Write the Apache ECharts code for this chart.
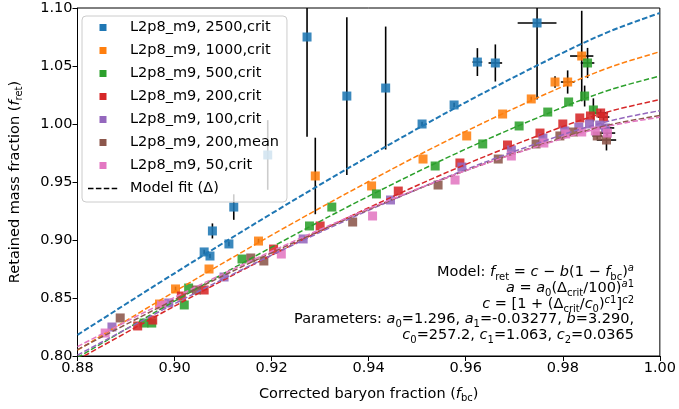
<!DOCTYPE html>
<html><head><meta charset="utf-8">
<script src="https://cdn.jsdelivr.net/npm/echarts@6/dist/echarts.min.js"></script>
<style>html,body{margin:0;padding:0;background:#fff}#c{width:679px;height:409px}</style>
</head><body><div id="c"></div>
<script>
// ---- tick labels ----
const xTicks = [0.88, 0.90, 0.92, 0.94, 0.96, 0.98, 1.00];
const yTicks = [0.80, 0.85, 0.90, 0.95, 1.00, 1.05, 1.10];

// ---- series names ----
const names = ['L2p8_m9, 2500,crit','L2p8_m9, 1000,crit','L2p8_m9, 500,crit','L2p8_m9, 200,crit','L2p8_m9, 100,crit','L2p8_m9, 200,mean','L2p8_m9, 50,crit'];
const colors = ['#1f77b4','#ff7f0e','#2ca02c','#d62728','#9467bd','#8c564b','#e377c2'];
const fitName = 'Model fit (Δ)';

// ---- data: corrected baryon fraction (x), retained mass fraction (y), errors ----
const x2500 = [0.9061,0.9073,0.9078,0.9112,0.9122,0.9192,0.9273,0.9355,0.9435,0.9510,0.9576,0.9624,0.9661,0.9747];
const y2500 = [0.8897,0.8862,0.9078,0.8966,0.9284,0.9733,1.0750,1.0241,1.0310,1.0000,1.0164,1.0534,1.0526,1.0871];
const ex2500 = [0,0,0,0,0,0,0,0,0,0,0,0.001,0.0014,0.004];
const ey2500 = [0.002,0.002,0.0065,0.002,0.011,0.030,0.086,0.068,0.053,0.002,0.002,0.012,0.016,0.066];

const x1000 = [0.8969,0.9002,0.9071,0.9173,0.9290,0.9406,0.9512,0.9602,0.9676,0.9735,0.9784,0.9810,0.9839];
const y1000 = [0.8448,0.8578,0.8750,0.8991,0.9552,0.9466,0.9698,0.9897,1.0086,1.0216,1.0362,1.0362,1.0586];
const ex1000 = [0,0,0,0,0,0,0,0,0,0,0,0.0014,0.0024];
const ey1000 = [0,0.002,0,0.002,0.033,0,0,0,0,0.002,0.005,0.010,0.039];

const x500 = [0.8937,0.8953,0.9020,0.9029,0.9139,0.9278,0.9324,0.9416,0.9537,0.9635,0.9710,0.9769,0.9812,0.9845,0.9863,0.9851];
const y500 = [0.8284,0.8284,0.8440,0.8586,0.8836,0.9121,0.9284,0.9397,0.9638,0.9828,0.9983,1.0103,1.0190,1.0241,1.0121,1.0526];
const ex500 = [0,0,0,0,0,0,0,0,0,0,0,0,0,0,0,0.0014];
const ey500 = [0,0,0,0,0,0,0,0,0,0,0,0,0,0.009,0.010,0.013];

const x200 = [0.8924,0.8955,0.9014,0.9061,0.9204,0.9300,0.9461,0.9588,0.9686,0.9753,0.9800,0.9835,0.9857,0.9878,0.9884];
const y200 = [0.8259,0.8310,0.8517,0.8569,0.8922,0.9121,0.9422,0.9664,0.9819,0.9922,1.0000,1.0052,1.0069,1.0095,1.0060];
const ex200 = [0,0,0,0,0,0,0,0,0,0,0,0,0,0.0015,0.0012];
const ey200 = [0,0,0,0,0,0,0,0,0,0,0,0,0,0.003,0.004];

const x100 = [0.8871,0.8988,0.9102,0.9265,0.9445,0.9592,0.9694,0.9759,0.9804,0.9833,0.9855,0.9876,0.9888];
const y100 = [0.8250,0.8457,0.8681,0.9009,0.9345,0.9629,0.9776,0.9879,0.9940,0.9974,1.0000,0.9991,0.9966];
const ex100 = [0,0,0,0,0,0,0,0,0,0,0,0,0.0018];
const ey100 = [0,0,0,0,0,0,0,0,0,0,0,0,0.003];

const x200m = [0.8888,0.9045,0.9157,0.9184,0.9367,0.9543,0.9667,0.9745,0.9794,0.9822,0.9871,0.9890];
const y200m = [0.8328,0.8569,0.8845,0.8819,0.9155,0.9474,0.9698,0.9828,0.9897,0.9931,0.9897,0.9862];
const ex200m = [0,0,0,0,0,0,0,0,0,0,0.001,0.002];
const ey200m = [0,0,0,0,0,0,0,0,0,0,0.003,0.009];

const x50 = [0.8857,0.8973,0.9220,0.9408,0.9578,0.9694,0.9761,0.9806,0.9839,0.9867,0.9892];
const y50 = [0.8198,0.8440,0.8879,0.9207,0.9517,0.9724,0.9836,0.9914,0.9931,0.9940,0.9922];
const ex50 = [0,0,0,0,0,0,0,0,0,0,0.0016];
const ey50 = [0,0,0,0,0,0,0,0,0,0,0.004];

// ---- model fit curves (values at fitX) ----
const fitX = [0.88,0.90,0.92,0.94,0.96,0.98,0.99,1.00];
const fit2500 = [0.8182,0.8713,0.9228,0.9721,1.0187,1.0614,1.0804,1.0957];
const fit1000 = [0.8050,0.8555,0.9042,0.9504,0.9936,1.0324,1.0493,1.0623];
const fit500  = [0.7986,0.8473,0.8938,0.9378,0.9784,1.0144,1.0298,1.0413];
const fit200  = [0.7968,0.8430,0.8869,0.9278,0.9652,0.9978,1.0113,1.0210];
const fit100  = [0.8007,0.8451,0.8869,0.9256,0.9607,0.9908,1.0030,1.0115];
const fit200m = [0.8055,0.8486,0.8890,0.9263,0.9598,0.9882,0.9996,1.0073];
const fit50   = [0.8081,0.8506,0.8903,0.9270,0.9598,0.9875,0.9986,1.0059];

const xs = [x2500,x1000,x500,x200,x100,x200m,x50];
const ys = [y2500,y1000,y500,y200,y100,y200m,y50];
const exs = [ex2500,ex1000,ex500,ex200,ex100,ex200m,ex50];
const eys = [ey2500,ey1000,ey500,ey200,ey100,ey200m,ey50];
const fits = [fit2500,fit1000,fit500,fit200,fit100,fit200m,fit50];

const FONT = 'DejaVu Sans';
const chart = echarts.init(document.getElementById('c'));

const series = [];
// error bars
const errData = [];
xs.forEach((xa, k) => xa.forEach((x, i) => {
  if (exs[k][i] > 0 || eys[k][i] > 0) errData.push([x, ys[k][i], exs[k][i], eys[k][i]]);
}));
series.push({
  type: 'custom', name: 'errbars', z: 1, clip: true, silent: true,
  data: errData, encode: {x: 0, y: 1},
  renderItem: function (params, api) {
    const x = api.value(0), y = api.value(1), ex = api.value(2), ey = api.value(3);
    const ch = [];
    const st = {stroke: '#000', lineWidth: 1.6};
    if (ey > 0) {
      const a = api.coord([x, y - ey]), b = api.coord([x, y + ey]);
      ch.push({type: 'line', shape: {x1: a[0], y1: a[1], x2: b[0], y2: b[1]}, style: st});
    }
    if (ex > 0) {
      const a = api.coord([x - ex, y]), b = api.coord([x + ex, y]);
      ch.push({type: 'line', shape: {x1: a[0], y1: a[1], x2: b[0], y2: b[1]}, style: st});
    }
    return {type: 'group', children: ch};
  }
});
// scatter points
names.forEach((n, k) => {
  series.push({
    type: 'scatter', name: n, z: 2, symbol: 'rect', symbolSize: 9,
    itemStyle: {color: colors[k], opacity: 0.88},
    data: xs[k].map((x, i) => [x, ys[k][i]])
  });
});
// model fit lines
names.forEach((n, k) => {
  series.push({
    type: 'line', name: 'fit' + k, z: 3, smooth: 0.35, showSymbol: false, symbol: 'none', silent: true,
    lineStyle: {color: colors[k], width: k === 0 ? 2 : 1.5, type: [5.5, 2.4]},
    data: fitX.map((x, i) => [x, fits[k][i]])
  });
});
series.push({type: 'line', name: fitName, data: [], itemStyle: {color: '#000'}, lineStyle: {color: '#000'}});

const sqIcon = 'path://M0,0M37,14M11.5,3.5h7v7h-7Z';
const dashIcon = 'path://M0,0M37,14M0,6.3h5.5v1.5h-5.5ZM7.9,6.3h5.5v1.5h-5.5ZM15.8,6.3h5.5v1.5h-5.5ZM23.7,6.3h5.5v1.5h-5.5Z';

const FS = 14.5, SS = 10;
const mathRich = {
  n: {fontFamily: FONT, fontSize: FS, color: '#000', lineHeight: 19},
  i: {fontFamily: FONT, fontSize: FS, fontStyle: 'italic', color: '#000', lineHeight: 19},
  s: {fontFamily: FONT, fontSize: SS, color: '#000', verticalAlign: 'bottom', lineHeight: 11},
  is: {fontFamily: FONT, fontSize: SS, fontStyle: 'italic', color: '#000', verticalAlign: 'bottom', lineHeight: 11},
  p: {fontFamily: FONT, fontSize: SS, color: '#000', verticalAlign: 'top', lineHeight: 11},
  ip: {fontFamily: FONT, fontSize: SS, fontStyle: 'italic', color: '#000', verticalAlign: 'top', lineHeight: 11}
};
const annLines = [
  '{n|Model: }{i|f}{s|ret}{n| = }{i|c}{n| − }{i|b}{n|(1 − }{i|f}{s|bc}{n|)}{ip|a}',
  '{i|a}{n| = }{i|a}{s|0}{n|(Δ}{s|crit}{n|/100)}{ip|a}{p|1}',
  '{i|c}{n| = [1 + (Δ}{s|crit}{n|/}{i|c}{s|0}{n|)}{ip|c}{p|1}{n|]}{ip|c}{p|2}',
  '{n|Parameters: }{i|a}{s|0}{n|=1.296, }{i|a}{s|1}{n|=-0.03277, }{i|b}{n|=3.290,}',
  '{i|c}{s|0}{n|=257.2, }{i|c}{s|1}{n|=1.063, }{i|c}{s|2}{n|=0.0365}'
];
const annY = [273, 289, 305, 322, 338];
const graphics = annLines.map((t, i) => ({
  type: 'text', right: 45, top: annY[i] - 10, z: 10,
  style: {text: t, rich: mathRich, align: 'right'}
}));

const axisNameRich = {
  n: {fontFamily: FONT, fontSize: 14.5, color: '#000', lineHeight: 18},
  i: {fontFamily: FONT, fontSize: 14.5, fontStyle: 'italic', color: '#000', lineHeight: 18},
  s: {fontFamily: FONT, fontSize: 10, color: '#000', verticalAlign: 'bottom', lineHeight: 12}
};

chart.setOption({
  animation: false,
  backgroundColor: '#fff',
  grid: {left: 75, right: 16, top: 8, bottom: 53, show: true, borderColor: '#000', borderWidth: 1, backgroundColor: 'transparent'},
  xAxis: {
    type: 'value', min: xTicks[0], max: xTicks[xTicks.length - 1], interval: 0.02,
    name: '{n|Corrected baryon fraction (}{i|f}{s|bc}{n|)}', nameLocation: 'middle', nameGap: 29,
    nameTextStyle: {rich: axisNameRich},
    axisLine: {lineStyle: {color: '#000', width: 1}},
    axisTick: {length: 5, lineStyle: {color: '#000', width: 1}},
    axisLabel: {color: '#000', fontFamily: FONT, fontSize: 14.5, margin: 5, formatter: v => v.toFixed(2)},
    splitLine: {show: false}
  },
  yAxis: {
    type: 'value', min: yTicks[0], max: yTicks[yTicks.length - 1], interval: 0.05,
    name: '{n|Retained mass fraction (}{i|f}{s|ret}{n|)}', nameLocation: 'middle', nameGap: 53,
    nameTextStyle: {rich: axisNameRich},
    axisLine: {show: true, lineStyle: {color: '#000', width: 1}},
    axisTick: {show: true, length: 5, lineStyle: {color: '#000', width: 1}},
    axisLabel: {color: '#000', fontFamily: FONT, fontSize: 14.5, margin: 5, formatter: v => v.toFixed(2)},
    splitLine: {show: false}
  },
  legend: {
    orient: 'vertical', left: 82, top: 16, selectedMode: false,
    itemWidth: 37, itemHeight: 14, itemGap: 8,
    padding: [4, 8, 6, 6],
    backgroundColor: 'rgba(255,255,255,0.8)', borderColor: '#cccccc', borderWidth: 1, borderRadius: 4,
    textStyle: {fontFamily: FONT, fontSize: 14.5, color: '#000', lineHeight: 14},
    data: names.map((n, k) => ({name: n, icon: sqIcon, itemStyle: {color: colors[k], opacity: 1}}))
      .concat([{name: fitName, icon: dashIcon, itemStyle: {color: '#000'}}])
  },
  graphic: graphics,
  series: series
});
</script></body></html>
